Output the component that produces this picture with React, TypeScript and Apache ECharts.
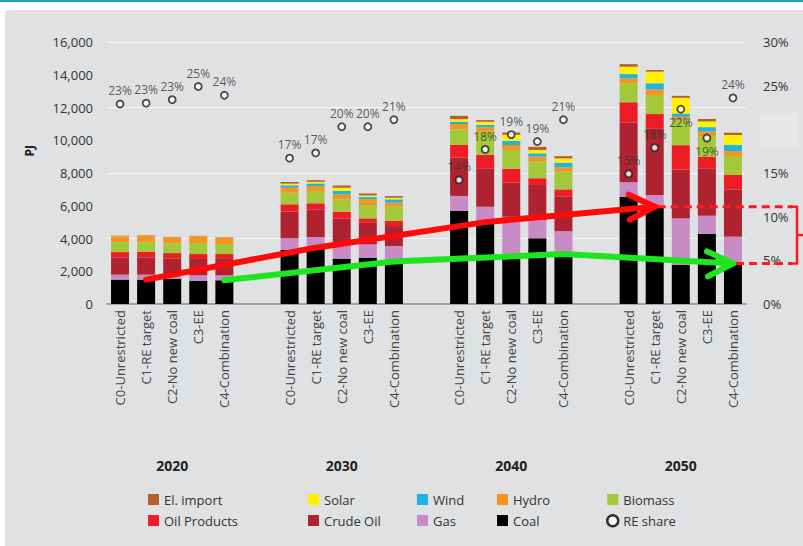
import React, { useEffect, useRef } from 'react';
import * as echarts from 'echarts';

const years = ['2020', '2030', '2040', '2050'];
const scenarios = ['C0-Unrestricted', 'C1-RE target', 'C2-No new coal', 'C3-EE', 'C4-Combination'];

// PJ per bar, order: 2020 C0..C4, 2030 C0..C4, 2040 C0..C4, 2050 C0..C4
const coal = [1490, 1490, 1550, 1420, 1450, 3300, 3440, 2770, 2830, 2600, 5700, 5000, 3050, 4010, 3050, 6550, 5940, 2380, 4280, 2480];
const gas = [300, 300, 200, 330, 300, 710, 650, 870, 810, 940, 900, 940, 2280, 1120, 1400, 880, 720, 2850, 1110, 1630];
const crudeOil = [1060, 1060, 1040, 1000, 1050, 1630, 1690, 1570, 1320, 1220, 2350, 2350, 2080, 2140, 2100, 3640, 4070, 2990, 2900, 2890];
const oilProducts = [320, 330, 320, 300, 250, 450, 370, 430, 270, 310, 760, 810, 850, 410, 450, 1250, 870, 1480, 710, 880];
const biomass = [610, 620, 600, 670, 610, 710, 750, 760, 810, 870, 960, 1420, 1150, 1010, 1080, 1160, 1160, 1530, 1260, 1160];
const hydro = [350, 350, 350, 400, 370, 300, 300, 300, 350, 250, 320, 270, 300, 310, 270, 300, 350, 200, 270, 300];
const wind = [0, 0, 0, 0, 0, 150, 160, 200, 140, 200, 140, 140, 250, 200, 280, 260, 370, 200, 270, 370];
const solar = [10, 10, 10, 10, 10, 100, 100, 200, 100, 100, 160, 200, 370, 200, 260, 450, 710, 960, 350, 610];
const elImport = [30, 30, 30, 30, 30, 100, 100, 140, 120, 100, 200, 100, 140, 200, 140, 160, 100, 120, 150, 140];
// RE share, %
const reShare = [22.9, 23.0, 23.4, 24.9, 23.9, 16.7, 17.3, 20.3, 20.3, 21.1, 14.2, 17.7, 19.4, 18.6, 21.1, 14.9, 17.9, 22.3, 19.0, 23.6];

const leftTicks = { min: 0, max: 16000, interval: 2000 };
const rightTicks = { min: 0, max: 30, interval: 5 };

const FONT = '"Open Sans", "DejaVu Sans", sans-serif';
const SLOTS = 50;
const slotOf = (i: number) => 1 + 13 * Math.floor(i / 5) + 2 * (i % 5);

const cats: string[] = [];
const yearCats: string[] = [];
for (let s = 0; s < SLOTS; s++) { cats.push('_' + s); yearCats.push('_' + s); }
for (let i = 0; i < 20; i++) {
  cats[slotOf(i)] = scenarios[i % 5];
  if (i % 5 === 2) yearCats[slotOf(i)] = years[Math.floor(i / 5)];
}

const toSlots = (vals: any[]) => {
  const a: any[] = new Array(SLOTS).fill('-');
  vals.forEach((v, i) => { a[slotOf(i)] = v; });
  return a;
};

const stackDefs = [
  { name: 'Coal', data: coal, color: '#000000' },
  { name: 'Gas', data: gas, color: '#c98bc6' },
  { name: 'Crude Oil', data: crudeOil, color: '#af2330' },
  { name: 'Oil Products', data: oilProducts, color: '#ee1c25' },
  { name: 'Biomass', data: biomass, color: '#a3c93a' },
  { name: 'Hydro', data: hydro, color: '#f7941d' },
  { name: 'Wind', data: wind, color: '#1fb3e8' },
  { name: 'Solar', data: solar, color: '#fff200' },
  { name: 'El. import', data: elImport, color: '#b5612f' },
];

const legendCols = [
  ['El. import', 'Oil Products'],
  ['Solar', 'Crude Oil'],
  ['Wind', 'Gas'],
  ['Hydro', 'Coal'],
  ['Biomass', 'RE share'],
];
const legendLeft = [143, 303, 412, 492, 601];

const trendLine = (scen: number, color: string) => {
  const a: any[] = new Array(SLOTS).fill('-');
  for (let y = 0; y < 4; y++) a[slotOf(y * 5 + scen)] = coal[y * 5 + scen];
  return {
    type: 'line', data: a, connectNulls: true, symbol: 'none', silent: true, z: 4,
    lineStyle: { color, width: 6, cap: 'round' }, legendHoverLink: false,
  };
};

const labelFmt = (v: string) => (v.startsWith('_') ? '' : v);

const option: any = {
  animation: false,
  backgroundColor: 'transparent',
  textStyle: { fontFamily: FONT },
  grid: { left: 107, right: 57, top: 42, bottom: 242, containLabel: false },
  legend: legendCols.map((d, i) => ({
    orient: 'vertical', left: legendLeft[i], top: 488, itemWidth: 11, itemHeight: 11, itemGap: 8,
    selectedMode: false,
    textStyle: { fontSize: 13, color: '#333', fontFamily: FONT },
    data: d.map((name) => name === 'RE share'
      ? { name, icon: 'circle', itemStyle: { color: '#fff', borderColor: '#000', borderWidth: 2.5 } }
      : { name, icon: 'rect' }),
  })),
  xAxis: [
    {
      type: 'category', data: cats, boundaryGap: false,
      axisLine: { lineStyle: { color: '#8a8a8a', width: 1.5 } },
      axisTick: { show: false },
      axisLabel: { interval: 0, rotate: 90, margin: 6, fontSize: 13, color: '#444', fontFamily: FONT, formatter: labelFmt },
      splitLine: { show: false },
    },
    {
      type: 'category', data: yearCats, boundaryGap: false, position: 'bottom', offset: 148,
      axisLine: { show: false }, axisTick: { show: false },
      axisLabel: { interval: 0, margin: 6, fontSize: 14, fontWeight: 'bold', color: '#222', fontFamily: FONT, formatter: labelFmt },
      splitLine: { show: false },
    },
  ],
  yAxis: [
    {
      type: 'value', ...leftTicks,
      axisLine: { show: false }, axisTick: { show: false }, splitLine: { show: false },
      axisLabel: { margin: 14, fontSize: 13, color: '#333', fontFamily: FONT, formatter: (v: number) => v.toLocaleString('en-US') },
    },
    {
      type: 'value', position: 'right', ...rightTicks,
      axisLine: { show: false }, axisTick: { show: false }, splitLine: { show: false },
      axisLabel: { margin: 17, fontSize: 13, color: '#333', fontFamily: FONT, formatter: (v: number) => (v === 20 ? '' : v + '%') },
    },
    {
      type: 'value', position: 'left', min: 0, max: 16000, interval: 4000,
      axisLine: { show: false }, axisTick: { show: false }, axisLabel: { show: false },
      splitLine: { show: true, lineStyle: { color: '#f5f5f5', width: 1 } },
    },
  ],
  series: [
    ...stackDefs.map((s) => ({
      type: 'bar', name: s.name, stack: 'total', barWidth: 18, data: toSlots(s.data),
      itemStyle: { color: s.color }, z: 2,
    })),
    trendLine(1, '#ff0a0a'),
    trendLine(4, '#1ee61e'),
    {
      type: 'scatter', name: 'RE share', yAxisIndex: 1, z: 5,
      symbol: 'circle', symbolSize: 7,
      itemStyle: { color: '#fff', borderColor: '#222', borderWidth: 1.8 },
      label: {
        show: true, position: 'top', distance: 3, fontSize: 12, color: '#333', fontFamily: FONT,
        formatter: (p: any) => Math.round(p.value) + '%',
      },
      data: toSlots(reShare.map((v, i) => (i === 17 || i === 18 ? { value: v, label: { position: 'bottom' } } : v))),
    },
  ],
};

export default function App() {
  const ref = useRef<HTMLDivElement>(null);
  useEffect(() => {
    const chart = echarts.init(ref.current!, null, { renderer: 'svg' });
    chart.setOption(option);
    const px = (i: number) => chart.convertToPixel({ xAxisIndex: 0, yAxisIndex: 0 }, [slotOf(i), coal[i]]) as number[];
    const r = px(16);
    const g = px(19);
    const bx = 797;
    const chevron = (p: number[], color: string) => ({
      type: 'polyline', z: 100, silent: true,
      shape: { points: [[p[0] - 26, p[1] - 12], [p[0], p[1]], [p[0] - 25, p[1] + 13]] },
      style: { stroke: color, lineWidth: 6, fill: null, lineCap: 'round', lineJoin: 'miter' },
    });
    const dash = (p: number[]) => ({
      type: 'line', z: 100, silent: true,
      shape: { x1: p[0] + 3, y1: p[1], x2: bx - 5, y2: p[1] },
      style: { stroke: '#ff1a1a', lineWidth: 3, lineDash: [8, 5] },
    });
    chart.setOption({
      graphic: [
        {
          type: 'text', left: 23, top: 145, rotation: Math.PI / 2, silent: true,
          style: { text: 'PJ', fontSize: 12, fontWeight: 'bold', fill: '#222', fontFamily: FONT },
        },
        {
          type: 'rect', shape: { x: 760, y: 113, width: 39, height: 34 }, silent: true, z: 50,
          style: { fill: '#e7e7e9' },
        },
        chevron(r, '#ff0a0a'),
        chevron(g, '#1ee61e'),
        dash(r),
        dash(g),
        {
          type: 'polyline', z: 100, silent: true,
          shape: { points: [[bx - 6, r[1]], [bx, r[1]], [bx, g[1]], [bx - 6, g[1]]] },
          style: { stroke: '#ff1a1a', lineWidth: 2.5, fill: null },
        },
        {
          type: 'line', z: 100, silent: true,
          shape: { x1: bx, y1: (r[1] + g[1]) / 2, x2: 803, y2: (r[1] + g[1]) / 2 },
          style: { stroke: '#ff1a1a', lineWidth: 2.5 },
        },
      ],
    });
    return () => chart.dispose();
  }, []);
  return (
    <div style={{ position: 'fixed', left: 0, top: 0, width: 803, height: 546, background: '#fff', overflow: 'hidden' }}>
      <div style={{ position: 'absolute', left: 0, top: 0, width: 803, height: 2, background: '#1aa3b1' }} />
      <div style={{ position: 'absolute', left: 5, top: 10, right: 0, bottom: 0, background: '#e0e1e3', borderTopLeftRadius: 4 }} />
      <div ref={ref} style={{ position: 'absolute', left: 0, top: 0, width: 803, height: 546 }} />
    </div>
  );
}
